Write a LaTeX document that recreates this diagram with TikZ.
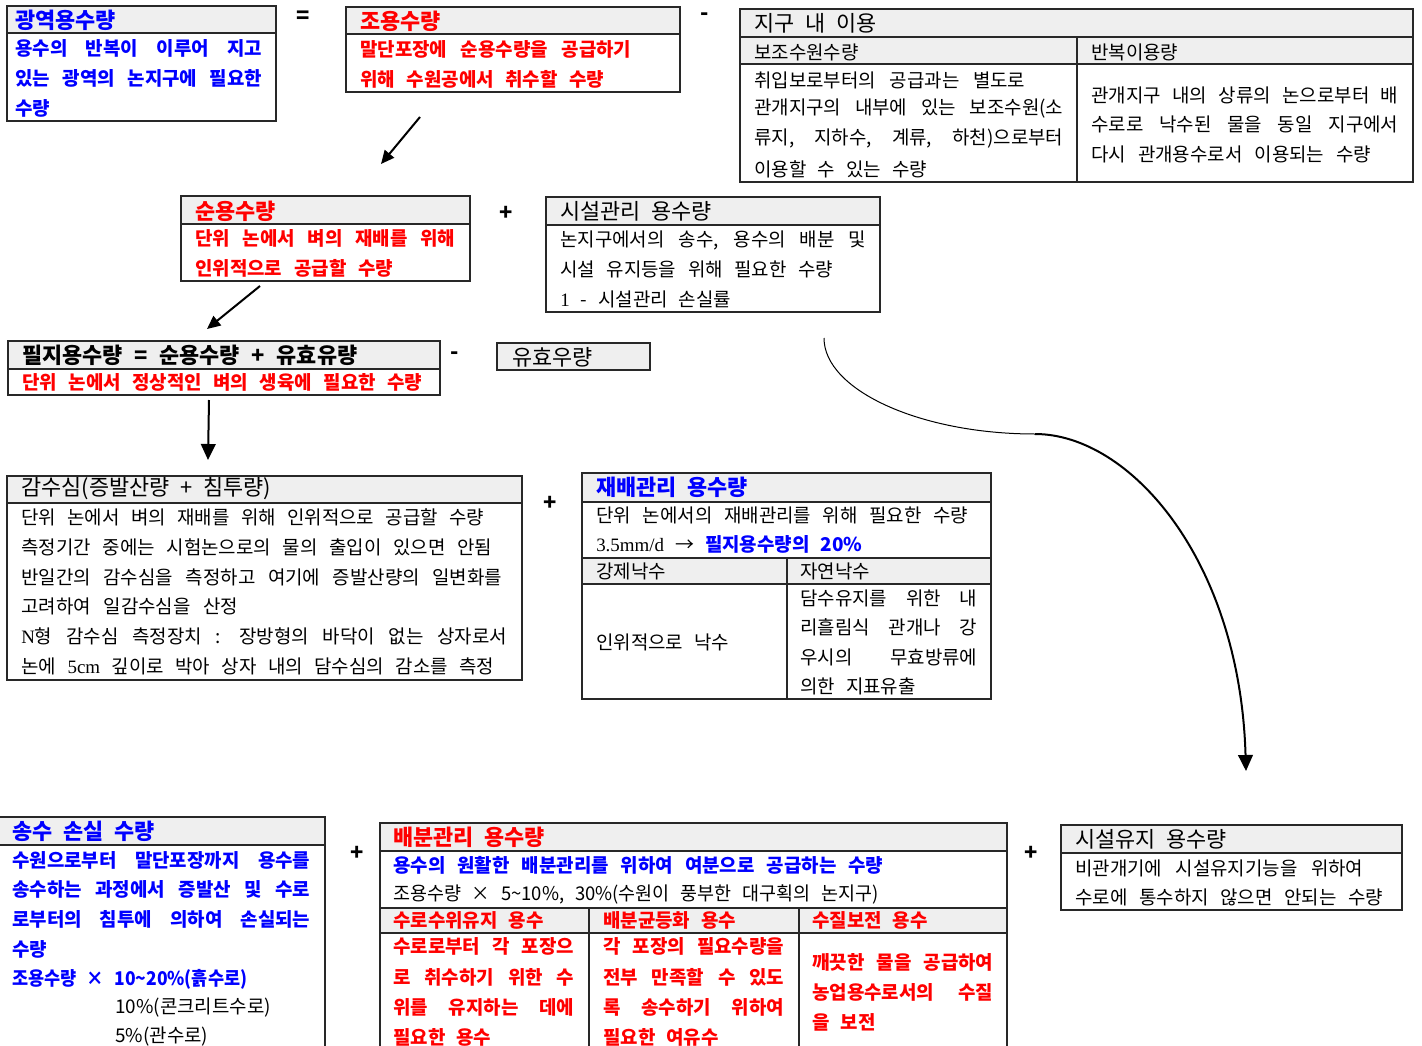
\documentclass[tikz,border=0pt]{standalone}
\usepackage{fontspec}
\usepackage{graphicx}
\usetikzlibrary{arrows.meta,fit}
\newfontfamily\kr{Noto Sans CJK KR}
\newfontfamily\lat{Liberation Serif}
\definecolor{kblue}{RGB}{0,0,255}
\definecolor{kred}{RGB}{255,0,0}
\definecolor{hdrfill}{RGB}{239,239,239}
\definecolor{bdr}{RGB}{40,40,40}
\newdimen\pxu \pxu=0.75pt
\newcommand\bodyfont{\kr\fontsize{14.2}{17}\selectfont\spaceskip=0.58em plus 3em minus 0.2em\relax}
\newcommand\headfont{\kr\fontsize{16.4}{19}\selectfont\spaceskip=0.5em plus 3em minus 0.15em\relax}
\newcommand\fl[2]{\setbox0=\hbox{#2}\ifdim\wd0>#1\pxu\relax\resizebox{#1\pxu}{\height}{\box0}\else\makebox[#1\pxu][s]{\unhbox0}\fi}
\tikzset{
  bx/.style={draw=bdr, line width=1pt, inner sep=0pt},
  sepl/.style={draw=bdr, line width=0.8pt},
  hfill/.style={fill=hdrfill},
  hn/.style={font=\headfont, anchor=west, inner sep=0pt, text=black},
  hbb/.style={font=\headfont\bfseries, anchor=west, inner sep=0pt, text=kblue},
  hbr/.style={font=\headfont\bfseries, anchor=west, inner sep=0pt, text=kred},
  hbk/.style={font=\headfont\bfseries, anchor=west, inner sep=0pt, text=black},
  bn/.style={font=\bodyfont, anchor=west, inner sep=0pt, text=black},
  bbb/.style={font=\bodyfont\bfseries, anchor=west, inner sep=0pt, text=kblue},
  bbr/.style={font=\bodyfont\bfseries, anchor=west, inner sep=0pt, text=kred},
  op/.style={font=\headfont\bfseries, inner sep=0pt},
  arr/.style={line width=1.5pt, -{Triangle[length=10pt,width=9pt]}},
  bigarr/.style={line width=1.5pt, -{Triangle[length=12pt,width=11pt]}}
}
\begin{document}
\begin{tikzpicture}[x=0.75pt,y=-0.75pt]
\useasboundingbox (0,0) rectangle (1422,1046);
\clip (0,0) rectangle (1422,1046);

% Box A
\fill[hfill] (7,6) rectangle (276,33);
\node[bx, fit={(7,6) (276,121)}] (A) {};
\draw[sepl] (7,33) -- (276,33);
\node[hbb] (A0) at (15,20) {광역용수량};
\node[bbb] (A1) at (15,48) {\fl{247}{용수의 반복이 이루어 지고}};
\node[bbb] (A2) at (15,78) {\fl{247}{있는 광역의 논지구에 필요한}};
\node[bbb] (A3) at (15,108) {수량};

\node[op] (eq1) at (303,17) {=};

% Box B
\fill[hfill] (346,7) rectangle (680,34);
\node[bx, fit={(346,7) (680,92)}] (B) {};
\draw[sepl] (346,34) -- (680,34);
\node[hbr] (B0) at (360,21) {조용수량};
\node[bbr] (B1) at (360,49) {\fl{271}{말단포장에 순용수량을 공급하기}};
\node[bbr] (B2) at (360,79) {\fl{244}{위해 수원공에서 취수할 수량}};

\node[op] (mi1) at (705,17) {-};

% Box C
\fill[hfill] (740,9) rectangle (1413,64);
\node[bx, fit={(740,9) (1413,182)}] (C) {};
\draw[sepl] (740,37) -- (1413,37);
\draw[sepl] (740,64) -- (1413,64);
\draw[sepl] (1077,37) -- (1077,182);
\node[hn] (C0) at (754,23) {지구 내 이용};
\node[bn] (C1) at (754,52) {보조수원수량};
\node[bn] (C2) at (1091,52) {반복이용량};
\node[bn] (C3) at (754,80) {\fl{271}{취입보로부터의 공급과는 별도로}};
\node[bn] (C4) at (754,109) {\fl{309}{관개지구의 내부에 있는 보조수원(소}};
\node[bn] (C5) at (754,139) {\fl{309}{류지, 지하수, 계류, 하천)으로부터}};
\node[bn] (C6) at (754,169) {\fl{173}{이용할 수 있는 수량}};
\node[bn] (C7) at (1091,95) {\fl{307}{관개지구 내의 상류의 논으로부터 배}};
\node[bn] (C8) at (1091,124) {\fl{307}{수로로 낙수된 물을 동일 지구에서}};
\node[bn] (C9) at (1091,154) {\fl{280}{다시 관개용수로서 이용되는 수량}};

% arrow 1
\coordinate (p1s) at (420,117);
\coordinate (p1e) at (381,164);
\draw[arr] (p1s) -- (p1e);

% Box D
\fill[hfill] (181,196) rectangle (470,224);
\node[bx, fit={(181,196) (470,281)}] (D) {};
\draw[sepl] (181,224) -- (470,224);
\node[hbr] (D0) at (195,211) {순용수량};
\node[bbr] (D1) at (195,238) {\fl{260}{단위 논에서 벼의 재배를 위해}};
\node[bbr] (D2) at (195,268) {\fl{198}{인위적으로 공급할 수량}};

\node[op] (pl1) at (506,213) {+};

% Box E
\fill[hfill] (546,197) rectangle (880,225);
\node[bx, fit={(546,197) (880,312)}] (E) {};
\draw[sepl] (546,225) -- (880,225);
\node[hn] (E0) at (560,211) {시설관리 용수량};
\node[bn] (E1) at (560,240) {\fl{306}{논지구에서의 송수, 용수의 배분 및}};
\node[bn] (E2) at (560,269) {\fl{273}{시설 유지등을 위해 필요한 수량}};
\node[bn] (E3) at (560,299) {{\lat 1} - 시설관리 손실률};

% arrow 2
\coordinate (p2s) at (260,286);
\coordinate (p2e) at (207,329);
\draw[arr] (p2s) -- (p2e);

% Box F
\fill[hfill] (8,341) rectangle (440,369);
\node[bx, fit={(8,341) (440,395)}] (F) {};
\draw[sepl] (8,369) -- (440,369);
\node[hbk] (F0) at (22,355) {\fl{335}{필지용수량 = 순용수량 + 유효유량}};
\node[bbr] (F1) at (22,382) {\fl{400}{단위 논에서 정상적인 벼의 생육에 필요한 수량}};

\node[op] (mi2) at (455,356) {-};

% Box G
\fill[hfill] (497,343) rectangle (650,370);
\node[bx, fit={(497,343) (650,370)}] (G) {};
\node[hn] (G0) at (512,357) {유효우량};

% arrow 3
\coordinate (p3s) at (209,400);
\coordinate (p3e) at (208,460);
\draw[bigarr] (p3s) -- (p3e);

% curve
\coordinate (c0) at (824,338);
\coordinate (c1) at (1035,434);
\coordinate (c2) at (1246,771);
\draw[line width=0.75pt] (c0) .. controls (824,390) and (920,434) .. (c1);
\draw[bigarr] (c1) .. controls (1130,434) and (1240,560) .. (c2);

% Box H
\fill[hfill] (7,476) rectangle (522,503);
\node[bx, fit={(7,476) (522,680)}] (H) {};
\draw[sepl] (7,503) -- (522,503);
\node[hn] (H0) at (21,489) {감수심(증발산량 + 침투량)};
\node[bn] (H1) at (21,517) {\fl{463}{단위 논에서 벼의 재배를 위해 인위적으로 공급할 수량}};
\node[bn] (H2) at (21,547) {\fl{471}{측정기간 중에는 시험논으로의 물의 출입이 있으면 안됨}};
\node[bn] (H3) at (21,577) {\fl{481}{반일간의 감수심을 측정하고 여기에 증발산량의 일변화를}};
\node[bn] (H4) at (21,606) {\fl{217}{고려하여 일감수심을 산정}};
\node[bn] (H5) at (21,636) {\fl{486}{{\lat N}형 감수심 측정장치 : 장방형의 바닥이 없는 상자로서}};
\node[bn] (H6) at (21,666) {\fl{473}{논에 {\lat 5cm} 깊이로 박아 상자 내의 담수심의 감소를 측정}};

\node[op] (pl2) at (550,503) {+};

% Box I
\fill[hfill] (582,473) rectangle (991,502);
\fill[hfill] (582,558) rectangle (991,584);
\node[bx, fit={(582,473) (991,699)}] (I) {};
\draw[sepl] (582,502) -- (991,502);
\draw[sepl] (582,558) -- (991,558);
\draw[sepl] (582,584) -- (991,584);
\draw[sepl] (787,558) -- (787,699);
\node[hbb] (I0) at (596,487) {재배관리 용수량};
\node[bn] (I1) at (596,515) {\fl{372}{단위 논에서의 재배관리를 위해 필요한 수량}};
\node[bn] (I2) at (596,544) {{\lat 3.5mm/d} → \textcolor{kblue}{\bfseries 필지용수량의 20\%}};
\node[bn] (I3) at (596,571) {강제낙수};
\node[bn] (I4) at (800,571) {자연낙수};
\node[bn] (I5) at (596,642) {인위적으로 낙수};
\node[bn] (I6) at (800,598) {\fl{177}{담수유지를 위한 내}};
\node[bn] (I7) at (800,627) {\fl{177}{리흘림식 관개나 강}};
\node[bn] (I8) at (800,657) {\fl{177}{우시의 무효방류에}};
\node[bn] (I9) at (800,686) {의한 지표유출};

% Box J
\fill[hfill] (-5,817) rectangle (325,845);
\node[bx, fit={(-5,817) (325,1060)}] (J) {};
\draw[sepl] (-5,845) -- (325,845);
\node[hbb] (J0) at (12,831) {송수 손실 수량};
\node[bbb] (J1) at (12,860) {\fl{298}{수원으로부터 말단포장까지 용수를}};
\node[bbb] (J2) at (12,889) {\fl{298}{송수하는 과정에서 증발산 및 수로}};
\node[bbb] (J3) at (12,919) {\fl{298}{로부터의 침투에 의하여 손실되는}};
\node[bbb] (J4) at (12,949) {수량};
\node[bbb] (J5) at (12,979) {\fl{235}{조용수량 × 10\textasciitilde20\%(흙수로)}};
\node[bn] (J6) at (115,1008) {10\%(콘크리트수로)};
\node[bn] (J7) at (115,1037) {5\%(관수로)};

\node[op] (pl3) at (357,853) {+};

% Box K
\fill[hfill] (380,823) rectangle (1007,851);
\fill[hfill] (380,908) rectangle (1007,933);
\node[bx, fit={(380,823) (1007,1060)}] (K) {};
\draw[sepl] (380,851) -- (1007,851);
\draw[sepl] (380,908) -- (1007,908);
\draw[sepl] (380,933) -- (1007,933);
\draw[sepl] (589,908) -- (589,1060);
\draw[sepl] (799,908) -- (799,1060);
\node[hbr] (K0) at (393,837) {배분관리 용수량};
\node[bbb] (K1) at (393,865) {\fl{490}{용수의 원활한 배분관리를 위하여 여분으로 공급하는 수량}};
\node[bn] (K2) at (393,894) {\fl{485}{조용수량 × 5\textasciitilde10\%, 30\%(수원이 풍부한 대구획의 논지구)}};
\node[bbr] (K3) at (393,920) {수로수위유지 용수};
\node[bbr] (K4) at (603,920) {배분균등화 용수};
\node[bbr] (K5) at (812,920) {수질보전 용수};
\node[bbr] (K6) at (393,946) {\fl{181}{수로로부터 각 포장으}};
\node[bbr] (K7) at (393,977) {\fl{181}{로 취수하기 위한 수}};
\node[bbr] (K8) at (393,1007) {\fl{181}{위를 유지하는 데에}};
\node[bbr] (K9) at (393,1037) {필요한 용수};
\node[bbr] (K10) at (603,946) {\fl{181}{각 포장의 필요수량을}};
\node[bbr] (K11) at (603,977) {\fl{181}{전부 만족할 수 있도}};
\node[bbr] (K12) at (603,1007) {\fl{181}{록 송수하기 위하여}};
\node[bbr] (K13) at (603,1037) {필요한 여유수};
\node[bbr] (K14) at (812,962) {\fl{181}{깨끗한 물을 공급하여}};
\node[bbr] (K15) at (812,992) {\fl{181}{농업용수로서의 수질}};
\node[bbr] (K16) at (812,1022) {을 보전};

\node[op] (pl4) at (1031,853) {+};

% Box L
\fill[hfill] (1061,825) rectangle (1402,853);
\node[bx, fit={(1061,825) (1402,910)}] (L) {};
\draw[sepl] (1061,853) -- (1402,853);
\node[hn] (L0) at (1075,839) {시설유지 용수량};
\node[bn] (L1) at (1075,868) {\fl{288}{비관개기에 시설유지기능을 위하여}};
\node[bn] (L2) at (1075,897) {\fl{308}{수로에 통수하지 않으면 안되는 수량}};
\end{tikzpicture}
\end{document}
